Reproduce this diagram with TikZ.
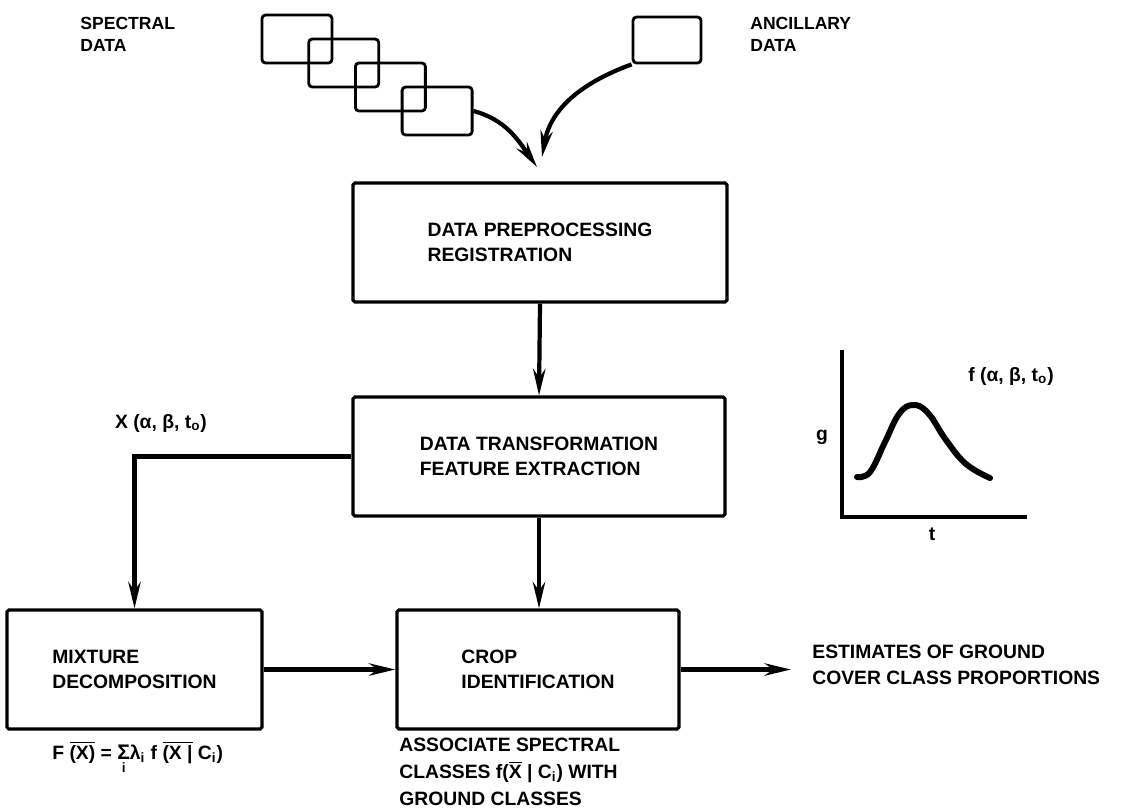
\documentclass[tikz,border=0pt]{standalone}
\usepackage{amsmath}
\usepackage{fontspec}
\setmainfont{Liberation Sans}
\usetikzlibrary{arrows.meta,calc,positioning}

\begin{document}
\begin{tikzpicture}[x=0.02cm,y=-0.02cm,
      font=\fontsize{11}{14.5}\selectfont\bfseries,>={Stealth[length=15pt,width=7pt]},
      blk/.style={draw,line width=1.8pt,rounded corners=1pt,minimum width=7.48cm,minimum height=2.38cm,align=left},
      pane/.style={draw,line width=1.6pt,rounded corners=2pt,minimum width=1.4cm,minimum height=0.96cm},
      link/.style={->,line width=2.4pt},
      lbl/.style={align=left,inner sep=0pt}]
    \useasboundingbox (0,0) rectangle (1121,809);
    % --- input data ---
    \foreach \i in {1,...,4}
      \node[pane] (sp\i) at ({297+46.7*(\i-1)},{39+24*(\i-1)}) {};
    \node[pane,minimum width=1.36cm,minimum height=0.92cm] (anc) at (667,40) {};
    \node[lbl,anchor=north west,font=\fontsize{10}{12.5}\selectfont\bfseries] (spec) at (80,17) {SPECTRAL\\DATA};
    \node[lbl,anchor=north west,font=\fontsize{10}{12.5}\selectfont\bfseries] (ancl) at (750,17) {ANCILLARY\\DATA};
    % --- processing chain ---
    \node[blk] (prep) at (540,242.5) {DATA PREPROCESSING\\REGISTRATION};
    \node[blk,minimum width=7.44cm] (feat) at (539,456.5) {DATA TRANSFORMATION\\FEATURE EXTRACTION};
    \node[blk,minimum width=5.1cm] (mix) at (134.5,669.5) {MIXTURE\\DECOMPOSITION};
    \node[blk,minimum width=5.64cm] (crop) at (538,669.5) {CROP\\IDENTIFICATION};
    \coordinate (in1) at (537,167);
    \coordinate (in2) at (542,157);
    \coordinate (out) at (791,669.5);
    \draw[link] (sp4.east) to[out=-15,in=125] (in1);
    \draw[link] (anc.south west) to[out=200,in=80] (in2);
    \draw[link] (prep.south) -- (feat.north);
    \draw[link] (feat.south) -- (feat.south |- crop.north);
    \draw[link] (feat.west) -| (mix.north);
    \draw[link] (mix.east) -- (crop.west);
    \draw[link] (crop.east) -- (out);
    % labels
    \node[lbl] (xlab) at (161,423) {X (α, β, t\textsubscript{o})};
    \node[lbl,anchor=west] (est) at (812,665) {ESTIMATES OF GROUND\\COVER CLASS PROPORTIONS};
    \node[lbl,anchor=north west,font=\fontsize{11}{15.3}\selectfont\bfseries] (assoc) at (399,738)
      {ASSOCIATE SPECTRAL\\CLASSES f($\overline{\text{X}}$ | C\textsubscript{i}) WITH\\GROUND CLASSES};
    \node[lbl,anchor=north west] (mixeq) at (52,741)
      {F $\overline{\text{(X)}}$ = $\mathop{\text{\large Σ}}\limits_{\text{i}}$λ\textsubscript{i} f $\overline{\text{(X |}}$ C\textsubscript{i})};
    % --- response curve ---
    \draw[line width=2pt] (842,350) -- (842,517) -- (1027,517);
    \draw[line width=3.4pt,line cap=round] plot[smooth,tension=0.7] coordinates
      {(857,477) (870,472) (885,442) (899,414) (913,405) (928,413) (946,440) (966,464) (990,478)};
    \node (gax) at (822,437) {g};
    \node (tax) at (932,534) {t};
    \node (flab) at (1011,376) {f (α, β, t\textsubscript{o})};
\end{tikzpicture}
\end{document}
